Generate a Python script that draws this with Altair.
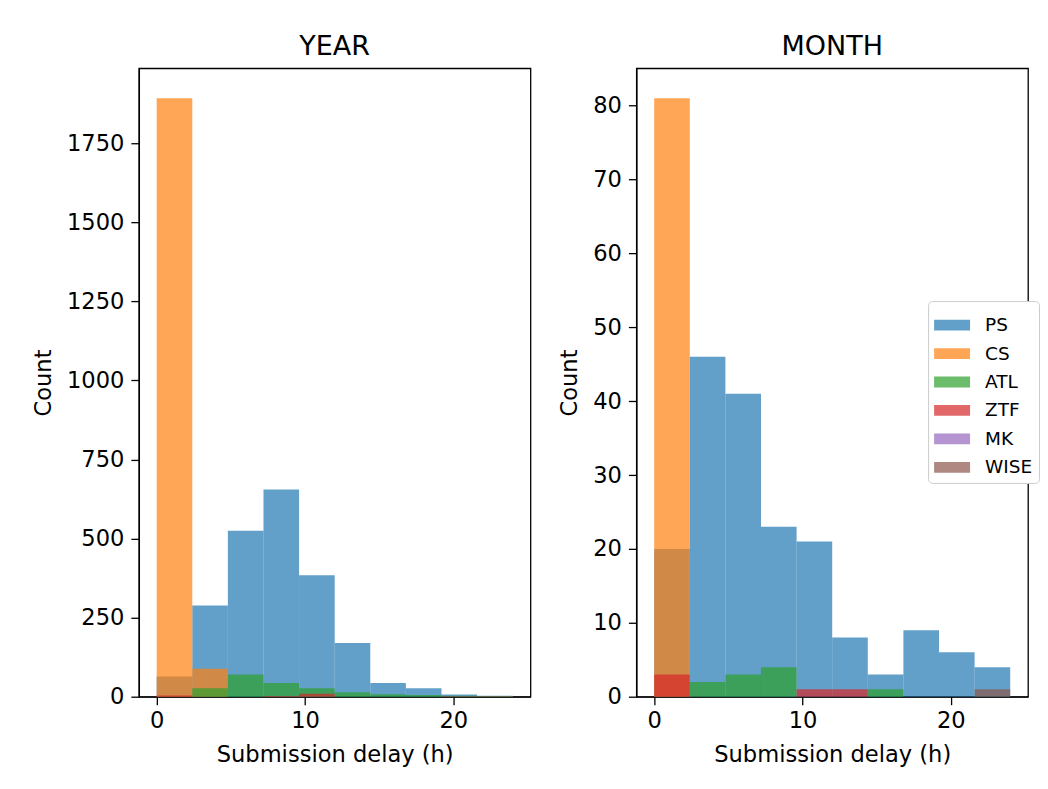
import altair as alt
import pandas as pd

# ---- data ----
bin_edges = [0.0, 2.4, 4.8, 7.2, 9.6, 12.0, 14.4, 16.8, 19.2, 21.6, 24.0]
series = ["PS", "CS", "ATL", "ZTF", "MK", "WISE"]
colors = ["#1f77b4", "#ff7f0e", "#2ca02c", "#d62728", "#9467bd", "#8c564b"]

year_PS = [64, 288, 525, 655, 384, 170, 43, 27, 7, 3]
year_CS = [1892, 88, 0, 0, 0, 0, 0, 0, 0, 0]
year_ATL = [0, 27, 70, 43, 27, 14, 8, 5, 3, 2]
year_ZTF = [4, 0, 0, 2, 9, 0, 0, 0, 0, 0]
year_MK = [0, 0, 0, 0, 0, 0, 0, 0, 0, 0]
year_WISE = [0, 0, 0, 0, 0, 0, 0, 0, 2, 2]

month_PS = [20, 46, 41, 23, 21, 8, 3, 9, 6, 4]
month_CS = [81, 0, 0, 0, 0, 0, 0, 0, 0, 0]
month_ATL = [0, 2, 3, 4, 0, 0, 1, 0, 0, 0]
month_ZTF = [3, 0, 0, 0, 1, 1, 0, 0, 0, 0]
month_MK = [0, 0, 0, 0, 0, 0, 0, 0, 0, 0]
month_WISE = [0, 0, 0, 0, 0, 0, 0, 0, 0, 1]

year_ticks = [0, 250, 500, 750, 1000, 1250, 1500, 1750]
month_ticks = [0, 10, 20, 30, 40, 50, 60, 70, 80]
x_ticks = [0, 10, 20]

FONT = "DejaVu Sans"


def build(counts_by_series):
    rows = []
    for k, (name, counts) in enumerate(zip(series, counts_by_series)):
        for i, c in enumerate(counts):
            if c > 0:
                rows.append({"series": name, "ord": k, "start": bin_edges[i],
                             "end": bin_edges[i + 1], "count": c})
    return pd.DataFrame(rows)


year_df = build([year_PS, year_CS, year_ATL, year_ZTF, year_MK, year_WISE])
month_df = build([month_PS, month_CS, month_ATL, month_ZTF, month_MK, month_WISE])

legend = alt.Legend(
    title=None, orient="none", legendX=790, legendY=233,
    symbolType="M-1,-0.3H1V0.3H-1Z", symbolSize=1296, symbolOpacity=0.7,
    symbolStrokeWidth=0, labelFont=FONT, labelFontSize=18.5, labelColor="black",
    labelOffset=15, rowPadding=0.5, padding=6, strokeColor="#cccccc",
    fillColor="white", cornerRadius=4,
)


def panel(df, title, ymax, yticks):
    return alt.Chart(df, title=alt.Title(title)).mark_bar(opacity=0.7).encode(
        x=alt.X("start:Q", scale=alt.Scale(domain=[-1.2, 25.2], nice=False, zero=False),
                axis=alt.Axis(values=x_ticks, title="Submission delay (h)", labelFlush=False,
                              labelPadding=5)),
        x2="end:Q",
        y=alt.Y("count:Q", stack=None, scale=alt.Scale(domain=[0, ymax], nice=False),
                axis=alt.Axis(values=yticks, title="Count", format="d")),
        y2=alt.datum(0),
        color=alt.Color("series:N", scale=alt.Scale(domain=series, range=colors), legend=legend),
        order=alt.Order("ord:Q"),
    ).properties(width=392, height=629)


chart = alt.hconcat(
    panel(year_df, "YEAR", 1987, year_ticks),
    panel(month_df, "MONTH", 85.05, month_ticks),
    spacing=26,
).properties(
    padding={"left": 23, "top": 24, "right": 0, "bottom": 0},
).configure_view(
    stroke="black", strokeWidth=1.3,
).configure_axis(
    grid=False, domainColor="black", domainWidth=1.3, tickColor="black", tickWidth=1.3,
    tickSize=8, labelPadding=7, labelFont=FONT, labelFontSize=22.6, labelColor="black",
    titleFont=FONT, titleFontSize=22.6, titleFontWeight="normal", titleColor="black",
    titlePadding=11,
).configure_title(
    font=FONT, fontSize=27, fontWeight="normal", color="black", anchor="middle",
    baseline="alphabetic", offset=7,
)

chart.save("out.html", embed_options={"renderer": "svg", "actions": False})
